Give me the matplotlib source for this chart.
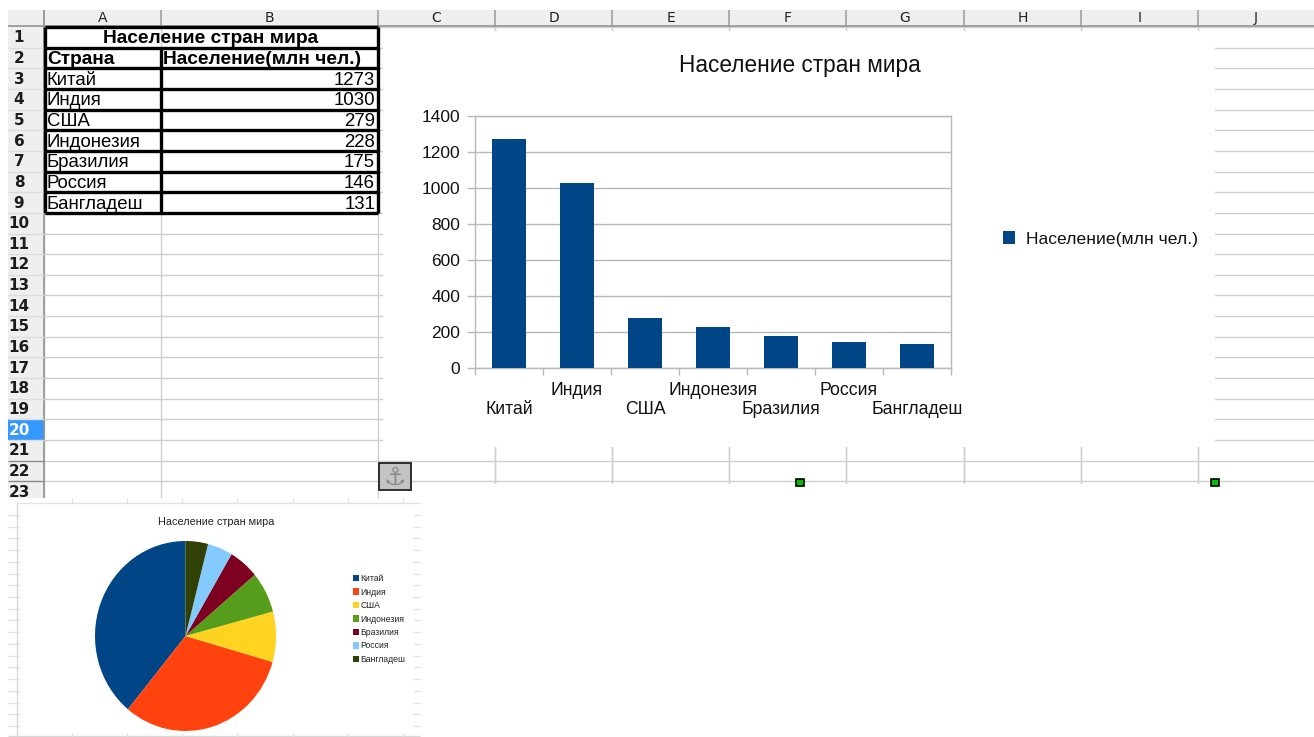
import matplotlib
matplotlib.use("Agg")
import matplotlib.pyplot as plt
from matplotlib.patches import Rectangle

# ---- data ----
table_title = "Население стран мира"
col_country = "Страна"
series_name = "Население(млн чел.)"
countries = ["Китай", "Индия", "США", "Индонезия", "Бразилия", "Россия", "Бангладеш"]
population = [1273, 1030, 279, 228, 175, 146, 131]
y_ticks = [0, 200, 400, 600, 800, 1000, 1200, 1400]
column_letters = ["A", "B", "C", "D", "E", "F", "G", "H", "I", "J"]
pie_colors = ["#004586", "#ff420e", "#ffd320", "#579d1c", "#7e0021", "#83caff", "#314004"]

W, H = 1314, 737
plt.rcParams["font.family"] = ["Liberation Sans", "DejaVu Sans"]
fig = plt.figure(figsize=(W / 100, H / 100), dpi=100, facecolor="white")

# pixel-space layer for the spreadsheet furniture
bg = fig.add_axes([0, 0, 1, 1], zorder=0)
bg.set_xlim(0, W)
bg.set_ylim(H, 0)
bg.axis("off")

GRID = "#cfcfcf"
col_edges = [44, 161, 378, 495, 612, 729, 846, 964, 1081, 1198, 1314]
row_y = lambda k: 27 + 20.65 * k

def hl(y, x0, x1, c=GRID, lw=1.0, z=1):
    bg.plot([x0, x1], [y, y], color=c, lw=lw, zorder=z, solid_capstyle="butt")

def vl(x, y0, y1, c=GRID, lw=1.0, z=1):
    bg.plot([x, x], [y0, y1], color=c, lw=lw, zorder=z, solid_capstyle="butt")

# sheet grid
for k in range(0, 23):
    hl(row_y(k), 44, W)
for x in col_edges[:-1]:
    vl(x, 26, 498)
for x in col_edges[3:-1]:
    vl(x, 26, 483)

# white areas that hide the grid
bg.add_patch(Rectangle((383, 31), 832, 416, fc="white", ec="none", zorder=2))
bg.add_patch(Rectangle((379, 484), W, H, fc="white", ec="none", zorder=2))

# headers
bg.add_patch(Rectangle((8, 10), W - 8, 16, fc="#efefef", ec="none", zorder=3))
bg.add_patch(Rectangle((8, 26), 36, 472, fc="#efefef", ec="none", zorder=3))
hl(26, 8, W, "#8a8a8a", 1.1, 4)
vl(44, 10, 498, "#8a8a8a", 1.1, 4)
for i, letter in enumerate(column_letters):
    x0, x1 = col_edges[i], col_edges[i + 1]
    vl(x0, 10, 26, "#9a9a9a", 1.1, 4)
    bg.text((x0 + x1) / 2, 17.5, letter, ha="center", va="center", fontsize=10,
            color="#222222", family="DejaVu Sans", zorder=5)
for k in range(1, 24):
    top, bot = row_y(k - 1), row_y(k)
    sel = k == 20
    if sel:
        bg.add_patch(Rectangle((8, top), 36, bot - top, fc="#3399ff", ec="none", zorder=3.5))
    hl(bot, 8, 44, "#8a8a8a" if k >= 21 else "#dddddd", 1.0, 4)
    bg.text(19, (top + bot) / 2 + 0.5, str(k), ha="center", va="center", fontsize=11,
            fontweight="bold", color="white" if sel else "#1c1c1c",
            family="DejaVu Sans", zorder=5)
bg.add_patch(Rectangle((0, 498), W, 6, fc="white", ec="none", zorder=5.5))

# table
tx0, tx1, tx2 = 45, 161, 378
ty0 = row_y(0)
ty1 = row_y(9)
LW = 2.4
for k in range(0, 10):
    hl(row_y(k), tx0, tx2, "black", LW, 6)
vl(tx0, ty0, ty1, "black", LW, 6)
vl(tx2, ty0, ty1, "black", LW, 6)
vl(tx1, row_y(1), ty1, "black", LW, 6)
FS = 13.4
bg.text((tx0 + tx2) / 2 - 1, row_y(0.5) + 1.5, table_title, ha="center", va="center",
        fontsize=13.8, fontweight="bold", color="black", zorder=7)
bg.text(47, row_y(1.5) + 1.5, col_country, ha="left", va="center", fontsize=13.8,
        fontweight="bold", color="black", zorder=7)
bg.text(163, row_y(1.5) + 1.5, series_name, ha="left", va="center", fontsize=13.8,
        fontweight="bold", color="black", zorder=7)
for i, (c, p) in enumerate(zip(countries, population)):
    bg.text(47, row_y(2.5 + i) + 1.5, c, ha="left", va="center", fontsize=FS, color="black", zorder=7)
    bg.text(375, row_y(2.5 + i) + 1.5, str(p), ha="right", va="center", fontsize=FS, color="black", zorder=7)

# anchor + handles
bg.add_patch(Rectangle((378.5, 463), 32, 27, fc="#c4c4c4", ec="#222222", lw=1.3, zorder=8))
bg.text(394.5, 477.5, "\u2693", ha="center", va="center", fontsize=18, color="#8c8c8c",
        family="DejaVu Sans", zorder=9)
for hx in (799.5, 1215):
    bg.add_patch(Rectangle((hx - 4, 478.5), 8, 7, fc="#00c000", ec="black", lw=1.2, zorder=9))

# pie picture frame
bg.add_patch(Rectangle((17, 503), 403, 234, fc="white", ec="none", zorder=3))
hl(503, 17, 420, "#e2e2e2", 1.0, 6)
hl(736, 8, 420, "#d8d8d8", 1.0, 6)
vl(17, 503, 737, "#d8d8d8", 1.0, 6)
for i in range(7):
    tx = 71.5 + 55.3 * i
    vl(tx, 498, 503, "#e2e2e2", 1.0, 6)
    vl(tx, 733, 737, "#e2e2e2", 1.0, 6)
for i in range(19):
    ty = 515 + 11.72 * i
    hl(ty, 8, 20, "#e2e2e2", 1.0, 6)
    hl(ty, 413, 420, "#e2e2e2", 1.0, 6)

# bar chart
def px_axes(x0, y0, x1, y1, z):
    return fig.add_axes([x0 / W, 1 - y1 / H, (x1 - x0) / W, (y1 - y0) / H], zorder=z)

BLUE = "#004586"
AXC = "#b8b8b8"
ax = px_axes(475, 116, 951, 368, 10)
ax.patch.set_alpha(0)
x = list(range(len(countries)))
bars = ax.bar(x, population, width=0.5, color=BLUE, zorder=3, label=series_name)
ax.set_xlim(-0.5, 6.5)
ax.set_ylim(0, 1400)
ax.set_yticks(y_ticks)
ax.yaxis.grid(True, color=AXC, lw=1.0, zorder=0)
ax.set_axisbelow(True)
for s in ax.spines.values():
    s.set_color(AXC)
    s.set_linewidth(1.0)
ax.tick_params(axis="y", length=5.5, color=AXC, width=1.0, pad=5, labelsize=12.5, labelcolor="#111111")
ax.set_xticks([i - 0.5 for i in range(8)])
ax.set_xticklabels([])
ax.tick_params(axis="x", which="major", length=5, color=AXC, width=1.0)
ax.set_xticks(x, minor=True)
ax.set_xticklabels(countries, minor=True, fontsize=12.7, color="#111111")
ax.tick_params(axis="x", which="minor", length=0)
for i, t in enumerate(ax.xaxis.get_minor_ticks()):
    t.set_pad(23.5 if i % 2 == 0 else 10)
fig.text(799.5 / W, 1 - 65.5 / H, table_title, ha="center", va="center", fontsize=16.3, color="#111111", zorder=11)
fig.legend(handles=[bars], labels=[series_name], loc="center left",
           bbox_to_anchor=(987 / W, 1 - 239 / H), frameon=False, fontsize=12.6,
           handlelength=0.7, handleheight=0.7, handletextpad=0.62, labelcolor="#111111").set_zorder(11)

# pie chart
pax = px_axes(95, 541, 276, 731, 10)
wedges, _ = pax.pie(population, colors=pie_colors, startangle=90, counterclock=True,
                    radius=1.0)
pax.set_aspect("auto")
pax.set_xlim(-1, 1)
pax.set_ylim(-1, 1)
fig.text(216.5 / W, 1 - 521.7 / H, table_title, ha="center", va="center", fontsize=7.8, color="#222222", zorder=11)
fig.legend(handles=wedges, labels=countries, loc="center left",
           bbox_to_anchor=(352.5 / W, 1 - 619 / H), frameon=False, fontsize=6.2,
           handlelength=0.8, handleheight=0.8, handletextpad=0.1, labelspacing=0.52,
           labelcolor="#222222", borderpad=0, borderaxespad=0).set_zorder(11)

fig.savefig("out.png", dpi=100, facecolor="white")
